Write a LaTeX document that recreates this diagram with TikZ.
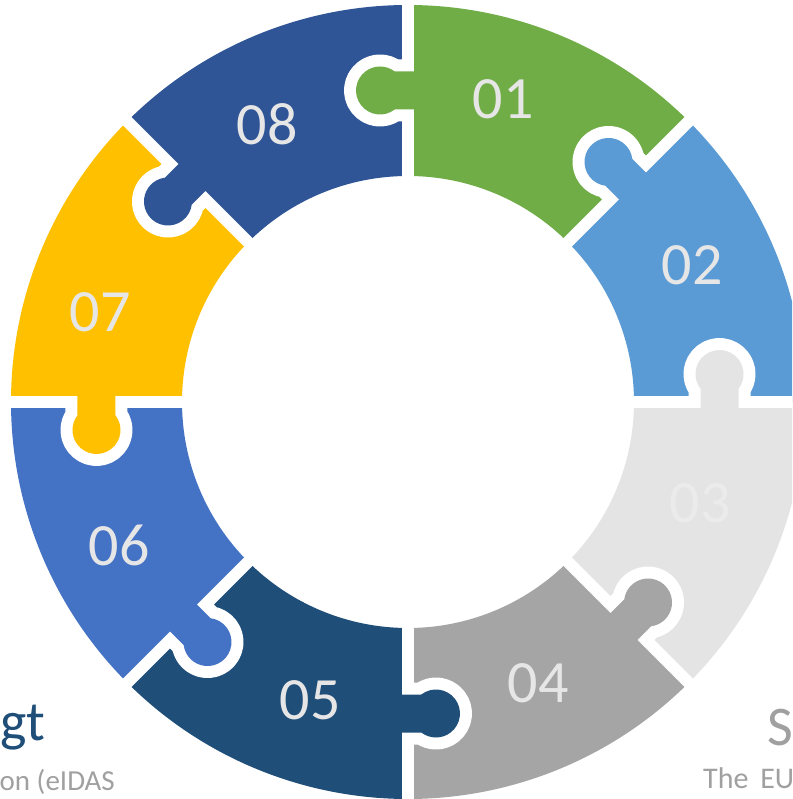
\documentclass[tikz,border=0pt]{standalone}
\usepackage{fontspec}
\setmainfont{Carlito}
\definecolor{cA}{HTML}{70AD47}
\definecolor{cB}{HTML}{5B9BD5}
\definecolor{cC}{HTML}{E4E4E4}
\definecolor{cD}{HTML}{A5A5A5}
\definecolor{cE}{HTML}{1F4E79}
\definecolor{cF}{HTML}{4472C4}
\definecolor{cG}{HTML}{FFC000}
\definecolor{cH}{HTML}{2F5597}
\definecolor{numcol}{HTML}{E7E6E6}
\definecolor{numlight}{HTML}{EBEBEB}
\definecolor{greytext}{HTML}{A0A0A0}
\definecolor{titleblue}{HTML}{1F4E79}
\tikzset{
  lbl/.style={inner sep=0pt, text=numcol, font=\fontsize{60}{60}\selectfont},
  headtext/.style={inner sep=0pt, font=\fontsize{56}{56}\selectfont},
  subtext/.style={inner sep=0pt, text=greytext, font=\fontsize{29}{29}\selectfont}
}
\begin{document}
\begin{tikzpicture}[x=1pt,y=1pt]
\useasboundingbox (-408,-397) rectangle (384,402);
\clip (-408,-397) rectangle (384,402);
\fill[white] (-408,-397) rectangle (384,402);
% ring sectors
\foreach \a/\c in {90/cA,45/cB,0/cC,-45/cD,-90/cE,-135/cF,-180/cG,135/cH}{
  \fill[\c] (\a:397pt) arc[start angle=\a, end angle=\a-45, radius=397pt]
    -- (\a-45:226pt) arc[start angle=\a-45, end angle=\a, radius=226pt] -- cycle;
}
% gaps
\foreach \a in {0,45,...,315}{
  \draw[white, line width=12pt] (\a:215pt) -- (\a:410pt);
}
% knobs
\foreach \a/\c in {90/cA,45/cB,0/cC,-45/cD,-90/cE,-135/cF,-180/cG,135/cH}{
  \begin{scope}[shift={(\a:311.5pt)}, rotate=\a]
    \begin{scope}
      \clip (-70,0) rectangle (70,90);
      \draw[white, line width=24pt, line join=round]
        (-19,-8) -- (-19,13.3) arc[start angle=217.65, end angle=-37.65, radius=24pt] -- (19,-8) -- cycle;
    \end{scope}
    \fill[\c] (-19,-8) -- (-19,13.3) arc[start angle=217.65, end angle=-37.65, radius=24pt] -- (19,-8) -- cycle;
  \end{scope}
}
% numbers
\node[lbl] (n1) at (95,303) {01};
\node[lbl] (n2) at (284,137) {02};
\node[lbl, text=numlight] (n3) at (292,-101) {03};
\node[lbl] (n4) at (130,-281) {04};
\node[lbl] (n5) at (-98,-298) {05};
\node[lbl] (n6) at (-289,-143) {06};
\node[lbl] (n7) at (-308,90) {07};
\node[lbl] (n8) at (-141,278) {08};
% cut-off slide texts
\node[headtext, text=titleblue, anchor=base east] (t1) at (-363,-338) {gt};
\node[subtext, anchor=base east] (t2) at (-293,-388) {on (eIDAS};
\node[headtext, text=greytext, anchor=base west] (t3) at (359,-343) {S};
\node[subtext, font=\fontsize{30}{30}\selectfont, anchor=base west] (t4) at (295,-386) {The\hspace{5pt} EU};
\end{tikzpicture}
\end{document}
